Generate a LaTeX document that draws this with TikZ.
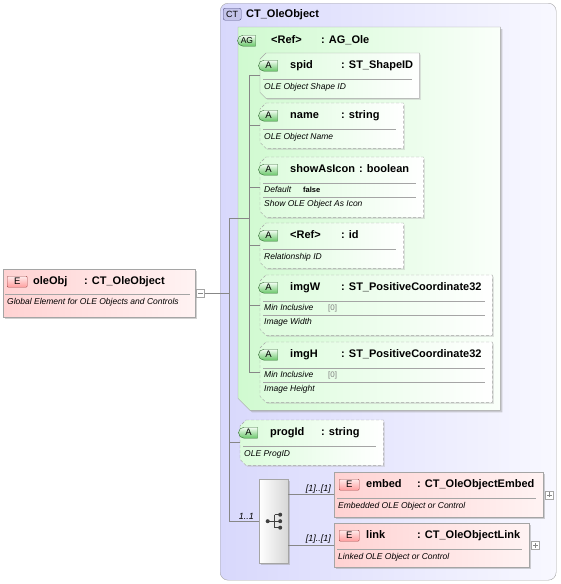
\documentclass[tikz,border=0pt]{standalone}
\usepackage{fontspec}
\setmainfont{Liberation Sans}
\usetikzlibrary{shapes.misc,shadows}

\definecolor{ctlav}{RGB}{216,216,252}
\definecolor{ctlavlight}{RGB}{248,248,255}
\definecolor{aggreen}{RGB}{208,250,208}
\definecolor{aggreenlight}{RGB}{250,255,250}
\definecolor{attrgreen}{RGB}{220,252,220}
\definecolor{elempink}{RGB}{255,210,210}
\definecolor{elempinklight}{RGB}{255,243,243}
\definecolor{boxgray}{RGB}{165,165,165}
\definecolor{linegray}{RGB}{135,135,135}
\definecolor{badgered}{RGB}{160,70,70}
\definecolor{badgegreen}{RGB}{45,105,45}
\definecolor{badgegreenfill}{RGB}{105,198,105}
\definecolor{badgeblue}{RGB}{85,85,135}

\tikzset{
  shad/.style={drop shadow={shadow xshift=2pt,shadow yshift=-2pt,fill=black!40,opacity=0.45}},
  lightshad/.style={drop shadow={shadow xshift=1.5pt,shadow yshift=-1.5pt,fill=black!30,opacity=0.35}},
  ctbox/.style={draw=boxgray, rounded corners=8pt, left color=ctlav, right color=ctlavlight,
    anchor=north west, inner sep=0pt},
  % box with cut-off left corners, drawn after the (invisible) node
  attrbox/.style={rectangle, anchor=north west, inner sep=0pt,
    append after command={\pgfextra{\draw[draw=boxgray, left color=attrgreen, right color=white, lightshad, #1]
      ([xshift=6pt]\tikzlastnode.north west) -- (\tikzlastnode.north east) -- (\tikzlastnode.south east)
      -- ([xshift=6pt]\tikzlastnode.south west) -- ([yshift=6pt]\tikzlastnode.south west)
      -- ([yshift=-6pt]\tikzlastnode.north west) -- cycle;}}},
  attrbox/.default={dash pattern=on 3pt off 2pt},
  agbox/.style={rectangle, anchor=north west, inner sep=0pt,
    append after command={\pgfextra{\draw[draw=boxgray, left color=aggreen, right color=aggreenlight, shad]
      (\tikzlastnode.north west) -- (\tikzlastnode.north east) -- (\tikzlastnode.south east)
      -- ([xshift=12pt]\tikzlastnode.south west) -- ([yshift=12pt]\tikzlastnode.south west) -- cycle;}}},
  elembox/.style={draw=boxgray, left color=elempink, right color=elempinklight, anchor=north west,
    inner sep=0pt, shad},
  seqbox/.style={draw=boxgray, left color=white, right color=black!16, anchor=north west,
    inner sep=0pt, minimum width=29pt, minimum height=84pt, shad},
  ebadge/.style={draw=badgered, rounded corners=1pt, top color=red!8, bottom color=red!38,
    minimum width=20pt, minimum height=11pt, inner sep=0pt, anchor=north west, font=\fontsize{9.5}{10}\selectfont},
  abadge/.style={rounded rectangle, rounded rectangle right arc=none, draw=badgegreen, top color=green!4,
    bottom color=badgegreenfill, minimum width=19pt, minimum height=11pt, inner sep=0pt, anchor=north west,
    font=\fontsize{9.5}{10}\selectfont},
  ctbadge/.style={draw=badgeblue, rounded corners=2pt, fill=ctlav!85!badgeblue, minimum width=18pt,
    minimum height=12pt, inner sep=0pt, anchor=north west, font=\fontsize{9}{10}\selectfont},
  hdr/.style={anchor=west, inner sep=0pt, font=\fontsize{11}{13}\selectfont\bfseries, text height=8pt, text depth=2pt},
  doc/.style={anchor=west, inner sep=0pt, font=\fontsize{8.5}{10}\selectfont\itshape, text height=6pt, text depth=2pt},
  facet/.style={anchor=west, inner sep=0pt, font=\fontsize{7.5}{9}\selectfont\bfseries, text height=5pt, text depth=1pt},
  occ/.style={anchor=south east, inner sep=0pt, font=\fontsize{9}{10}\selectfont\itshape},
  pmbox/.style={draw=boxgray, fill=white, minimum size=8pt, inner sep=0pt, anchor=west},
  conn/.style={draw=linegray, line width=0.6pt},
  sep/.style={draw=boxgray, line width=0.6pt}
}

\begin{document}
\begin{tikzpicture}[x=1pt,y=-1pt]
\useasboundingbox (0,0) rectangle (561,584);

% global element
\node[elembox, minimum width=192pt, minimum height=48pt] (oleobj) at (3,269) {};
\node[ebadge] (oleobj-badge) at (7,276) {E};
\node[hdr] (oleobj-name) at (33,281.5) {oleObj};
\node[hdr] (oleobj-type) at (84,281.5) {: CT\_OleObject};
\draw[sep] (5,294) -- (190,294);
\node[doc] (oleobj-doc) at (7,302.5) {Global Element for OLE Objects and Controls};
\node[pmbox] (oleobj-minus) at ([xshift=1pt]oleobj.east) {};
\draw[linegray] ([xshift=-2.5pt]oleobj-minus.center) -- ([xshift=2.5pt]oleobj-minus.center);

% complex type
\node[ctbox, minimum width=336pt, minimum height=577pt] (ct) at (220,3) {};
\node[ctbadge] (ct-badge) at (223,8) {CT};
\node[hdr] (ct-name) at (246,14) {CT\_OleObject};

% attribute group
\node[agbox, minimum width=262pt, minimum height=383pt] (ag) at (238,27) {};
\node[abadge, minimum width=18pt, font=\fontsize{8.5}{10}\selectfont] (ag-badge) at (243,35) {AG};
\node[hdr] (ag-ref) at (271,40.5) {<Ref>};
\node[hdr] (ag-type) at (321,40.5) {: AG\_Ole};

% spid
\node[attrbox=solid, minimum width=159pt, minimum height=45pt] (spid) at (260,53) {};
\node[abadge] (spid-badge) at (264,60) {A};
\node[hdr] (spid-name) at (290,65.5) {spid};
\node[hdr] (spid-type) at (341,65.5) {: ST\_ShapeID};
\draw[sep] (263,79) -- (412,79);
\node[doc] (spid-doc) at (264,87.5) {OLE Object Shape ID};

% name
\node[attrbox, minimum width=143pt, minimum height=45pt] (oname) at (260,103) {};
\node[abadge] (oname-badge) at (264,110) {A};
\node[hdr] (oname-name) at (290,115.5) {name};
\node[hdr] (oname-type) at (341,115.5) {: string};
\draw[sep] (263,129) -- (396,129);
\node[doc] (oname-doc) at (264,137.5) {OLE Object Name};

% showAsIcon
\node[attrbox, minimum width=163pt, minimum height=60pt] (showicon) at (260,157) {};
\node[abadge] (showicon-badge) at (264,164) {A};
\node[hdr] (showicon-name) at (290,169.5) {showAsIcon};
\node[hdr] (showicon-type) at (359,169.5) {: boolean};
\draw[sep] (263,183) -- (416,183);
\node[doc] (showicon-dflt) at (264,190.5) {Default};
\node[facet] (showicon-false) at (303,190) {false};
\draw[sep] (263,197) -- (416,197);
\node[doc] (showicon-doc) at (264,204.5) {Show OLE Object As Icon};

% r:id
\node[attrbox, minimum width=143pt, minimum height=45pt] (relid) at (260,223) {};
\node[abadge] (relid-badge) at (264,230) {A};
\node[hdr] (relid-name) at (290,235.5) {<Ref>};
\node[hdr] (relid-type) at (341,235.5) {: id};
\draw[sep] (263,249) -- (396,249);
\node[doc] (relid-doc) at (264,257.5) {Relationship ID};

% imgW
\node[attrbox, minimum width=232pt, minimum height=60pt] (imgw) at (260,275) {};
\node[abadge] (imgw-badge) at (264,282) {A};
\node[hdr] (imgw-name) at (290,287.5) {imgW};
\node[hdr] (imgw-type) at (341,287.5) {: ST\_PositiveCoordinate32};
\draw[sep] (263,301) -- (485,301);
\node[doc] (imgw-min) at (264,308.5) {Min Inclusive};
\node[doc, text=black!50, font=\fontsize{8}{10}\selectfont] (imgw-val) at (328,308.5) {[0]};
\draw[sep] (263,315) -- (485,315);
\node[doc] (imgw-doc) at (264,322.5) {Image Width};

% imgH
\node[attrbox, minimum width=232pt, minimum height=60pt] (imgh) at (260,342) {};
\node[abadge] (imgh-badge) at (264,349) {A};
\node[hdr] (imgh-name) at (290,354.5) {imgH};
\node[hdr] (imgh-type) at (341,354.5) {: ST\_PositiveCoordinate32};
\draw[sep] (263,368) -- (485,368);
\node[doc] (imgh-min) at (264,375.5) {Min Inclusive};
\node[doc, text=black!50, font=\fontsize{8}{10}\selectfont] (imgh-val) at (328,375.5) {[0]};
\draw[sep] (263,382) -- (485,382);
\node[doc] (imgh-doc) at (264,389.5) {Image Height};

% progId
\node[attrbox, minimum width=143pt, minimum height=45pt] (progid) at (240,420) {};
\node[abadge] (progid-badge) at (244,427) {A};
\node[hdr] (progid-name) at (270,432.5) {progId};
\node[hdr] (progid-type) at (321,432.5) {: string};
\draw[sep] (243,446) -- (376,446);
\node[doc] (progid-doc) at (244,454.5) {OLE ProgID};

% choice of embed / link
\node[seqbox] (seq) at (259,479) {};
\begin{scope}[shift={(seq.center)}]
    \draw[black!75, line width=0.7pt] (-6,0) -- (1,0) (1,-6.5) -- (1,6.5)
        (1,-6.5) -- (6,-6.5) (1,6.5) -- (6,6.5) (1,0) -- (6,0);
    \fill[black!75] (-6,0) circle (2pt) (6.5,-6.5) circle (2pt) (6.5,0) circle (2pt) (6.5,6.5) circle (2pt);
\end{scope}

\node[elembox, minimum width=209pt, minimum height=45pt] (embed) at (334,472) {};
\node[ebadge] (embed-badge) at (339,479) {E};
\node[hdr] (embed-name) at (366,484.5) {embed};
\node[hdr] (embed-type) at (417,484.5) {: CT\_OleObjectEmbed};
\draw[sep] (337,498) -- (536,498);
\node[doc] (embed-doc) at (338,506.5) {Embedded OLE Object or Control};
\node[pmbox] (embed-plus) at ([xshift=2pt]embed.east) {};
\draw[linegray] ([xshift=-2.5pt]embed-plus.center) -- ([xshift=2.5pt]embed-plus.center)
    ([yshift=-2.5pt]embed-plus.center) -- ([yshift=2.5pt]embed-plus.center);

\node[elembox, minimum width=195pt, minimum height=44pt] (link) at (334,523) {};
\node[ebadge] (link-badge) at (339,530) {E};
\node[hdr] (link-name) at (366,535.5) {link};
\node[hdr] (link-type) at (417,535.5) {: CT\_OleObjectLink};
\draw[sep] (337,549) -- (522,549);
\node[doc] (link-doc) at (338,557) {Linked OLE Object or Control};
\node[pmbox] (link-plus) at ([xshift=2pt]link.east) {};
\draw[linegray] ([xshift=-2.5pt]link-plus.center) -- ([xshift=2.5pt]link-plus.center)
    ([yshift=-2.5pt]link-plus.center) -- ([yshift=2.5pt]link-plus.center);

% connectors
\coordinate (trunk) at (229,0);
\coordinate (atrunk) at (249,0);
\draw[conn] (oleobj-minus.east) -- (oleobj-minus.east -| trunk);
\draw[conn] (ag.west -| atrunk) -| (seq.west -| trunk) -- (seq.west);
\draw[conn] (progid.west) -- (progid.west -| trunk);
\draw[conn] (spid.west -| atrunk) -- (imgh.west -| atrunk);
\draw[conn] (spid.west) -- (spid.west -| atrunk);
\draw[conn] (oname.west) -- (oname.west -| atrunk);
\draw[conn] (showicon.west) -- (showicon.west -| atrunk);
\draw[conn] (relid.west) -- (relid.west -| atrunk);
\draw[conn] (imgw.west) -- (imgw.west -| atrunk);
\draw[conn] (imgh.west) -- (imgh.west -| atrunk);
\draw[conn] (seq.east |- embed.west) -- (embed.west);
\draw[conn] (seq.east |- link.west) -- (link.west);

% occurrences
\node[occ] (seq-occ) at ([xshift=-5pt,yshift=1.5pt]seq.west) {1..1};
\node[occ] (embed-occ) at ([xshift=-3pt,yshift=1.5pt]embed.west) {[1]..[1]};
\node[occ] (link-occ) at ([xshift=-3pt,yshift=1.5pt]link.west) {[1]..[1]};
\end{tikzpicture}
\end{document}
